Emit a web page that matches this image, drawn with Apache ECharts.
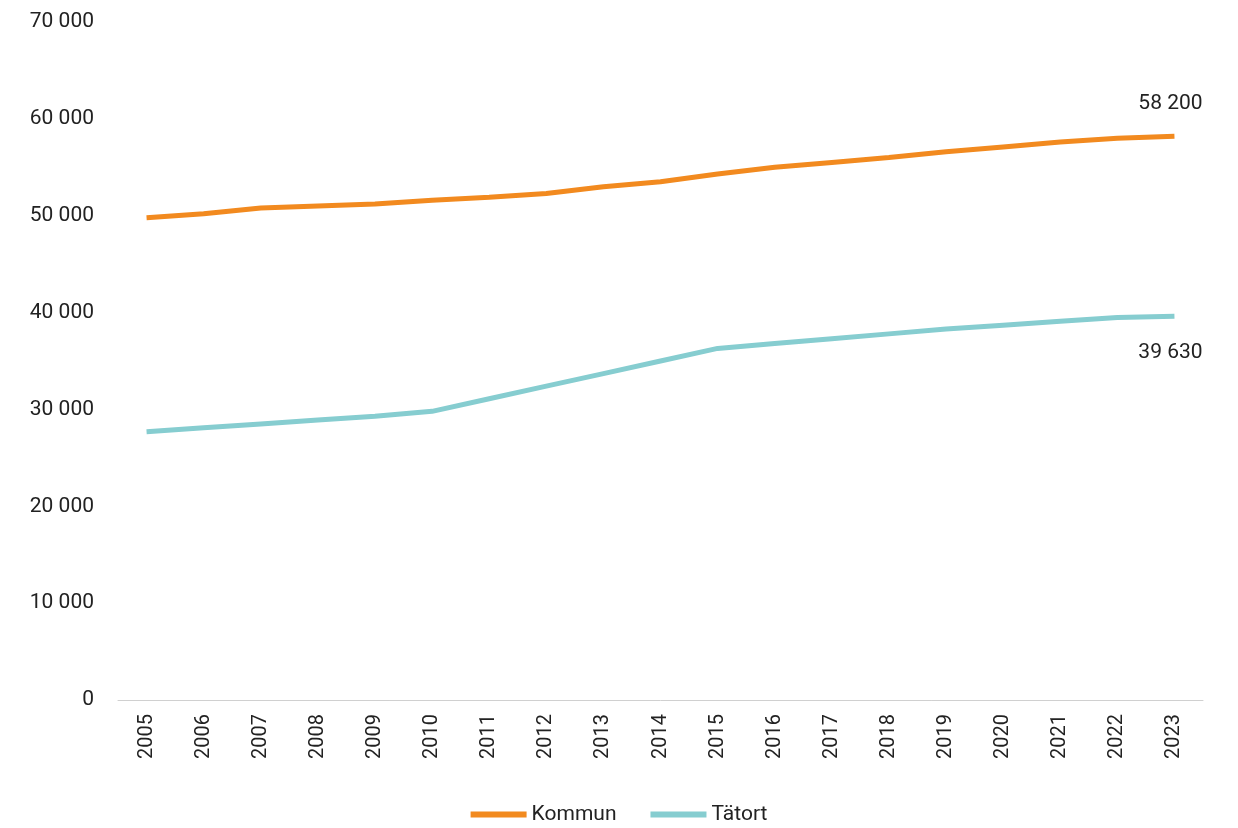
<!DOCTYPE html>
<html><head><meta charset="utf-8">
<script src="https://cdn.jsdelivr.net/npm/echarts@6/dist/echarts.min.js"></script>
<style>html,body{margin:0;padding:0;background:#fff}#c{width:1238px;height:828px}</style>
</head><body><div id="c"></div>
<script>
const years=['2005','2006','2007','2008','2009','2010','2011','2012','2013','2014','2015','2016','2017','2018','2019','2020','2021','2022','2023'];
const kommun=[49800,50200,50800,51000,51200,51600,51900,52300,53000,53500,54300,55000,55500,56000,56600,57100,57600,58000,58200];
const tatort=[27700,28100,28500,28900,29300,29800,31100,32400,33700,35000,36300,36800,37300,37800,38300,38700,39100,39500,39630];
const fmt=v=>String(v).replace(/\B(?=(\d{3})+(?!\d))/g,' ');
const font='Roboto';
const lbl=(pos,d)=>({show:true,position:pos,fontSize:21,color:'#222',fontFamily:font,distance:d,offset:[-4,0],formatter:p=>p.dataIndex===years.length-1?fmt(p.value):''});
const ch=echarts.init(document.getElementById('c'));
ch.setOption({
 animation:false,
 grid:{left:118,right:35,top:22,bottom:128},
 legend:{bottom:-2,left:'center',itemWidth:56,itemHeight:6,itemGap:34,icon:'rect',textStyle:{fontSize:21,color:'#222',fontFamily:font},data:['Kommun','Tätort']},
 xAxis:{type:'category',data:years,boundaryGap:true,axisTick:{show:false},axisLine:{lineStyle:{color:'#d0d0d0'}},
  axisLabel:{rotate:90,fontSize:20,color:'#222',fontFamily:font,margin:14}},
 yAxis:{type:'value',min:0,max:70000,interval:10000,splitLine:{show:false},axisLine:{show:false},axisTick:{show:false},
  axisLabel:{fontSize:21,color:'#222',fontFamily:font,margin:24,formatter:fmt}},
 series:[
  {name:'Kommun',type:'line',data:kommun,symbol:'circle',symbolSize:0.01,showSymbol:true,lineStyle:{width:5,color:'#f28a1f'},itemStyle:{color:'#f28a1f'},label:lbl('top',22)},
  {name:'Tätort',type:'line',data:tatort,symbol:'circle',symbolSize:0.01,showSymbol:true,lineStyle:{width:5,color:'#86cdd0'},itemStyle:{color:'#86cdd0'},label:lbl('bottom',26)}
 ]
});
</script></body></html>
